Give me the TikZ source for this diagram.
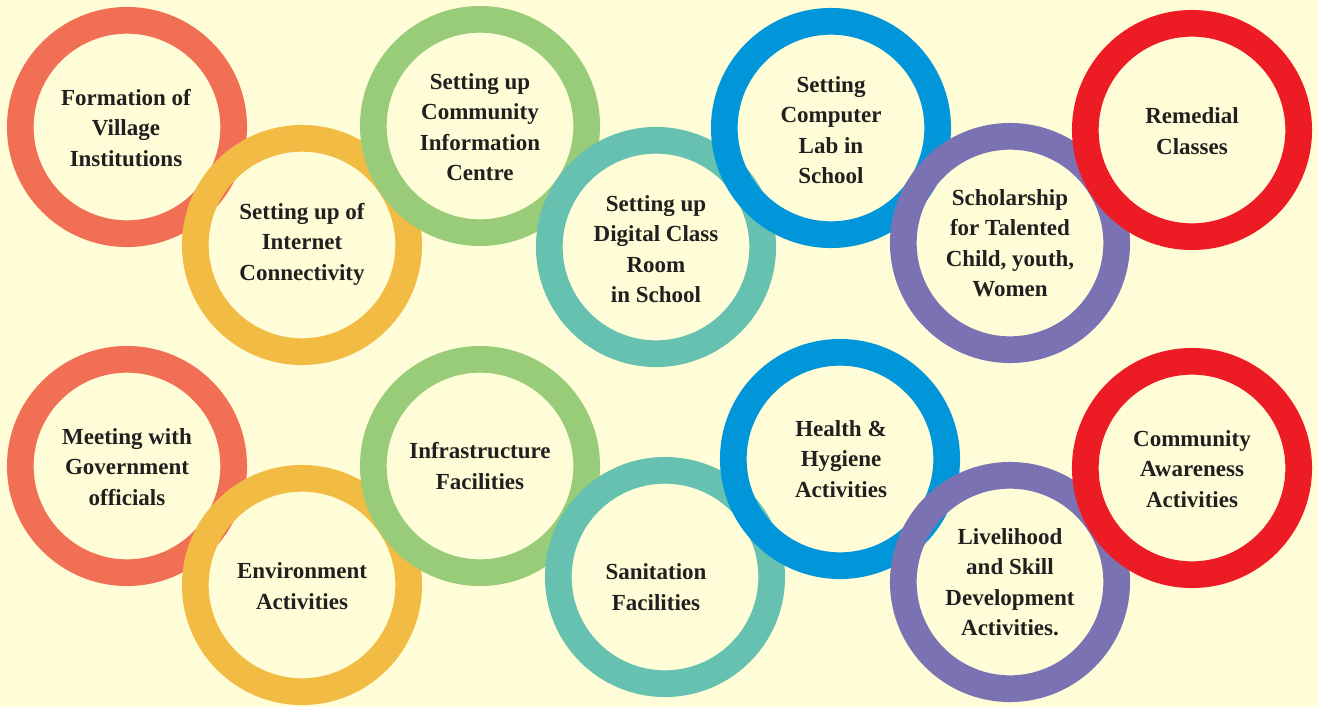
\documentclass[tikz,border=0pt]{standalone}
\usepackage{fontspec}
\setmainfont{Liberation Serif}
\definecolor{bgc}{HTML}{FFFDD7}
\definecolor{coralc}{HTML}{F06F55}
\definecolor{yellowc}{HTML}{F2BB43}
\definecolor{greenc}{HTML}{99CC79}
\definecolor{tealc}{HTML}{66C1B1}
\definecolor{bluec}{HTML}{0096D9}
\definecolor{purplec}{HTML}{7B72B4}
\definecolor{redc}{HTML}{ED1C24}
\definecolor{txtc}{HTML}{231F20}
\tikzset{
  ring/.style={circle, draw=#1, line width=26.7pt, minimum size=213.4pt, inner sep=0pt, outer sep=0pt},
  lbl/.style={align=center, text=txtc, font=\bfseries\fontsize{23}{30.5}\selectfont, inner sep=0pt}
}
\begin{document}
\begin{tikzpicture}[x=1pt,y=-1pt]
\useasboundingbox (0,0) rectangle (1318,707);
\fill[bgc] (0,0) rectangle (1318,707);
% row 1 rings
\node[ring=coralc]  (r1) at (127,127) {};
\node[ring=yellowc] (r2) at (302,245) {};
\node[ring=greenc]  (r3) at (480,126) {};
\node[ring=tealc]   (r4) at (656,247) {};
\node[ring=bluec]   (r5) at (831,128) {};
\node[ring=purplec] (r6) at (1010,243) {};
\node[ring=redc]    (r7) at (1192,130) {};
% row 2 rings
\node[ring=coralc]  (r8)  at (127,466) {};
\node[ring=yellowc] (r9)  at (302,585) {};
\node[ring=greenc]  (r10) at (480,466) {};
\node[ring=tealc]   (r11) at (665,577) {};
\node[ring=bluec]   (r12) at (840,459) {};
\node[ring=purplec] (r13) at (1010,582) {};
\node[ring=redc]    (r14) at (1192,468) {};
% labels
\node[lbl] (t1) at (126,128) {Formation of\\Village\\Institutions};
\node[lbl] (t2) at (302,244) {Setting up of\\Internet\\Connectivity};
\node[lbl] (t3) at (480,127) {Setting up\\Community\\Information\\Centre};
\node[lbl] (t4) at (656,249) {Setting up\\Digital Class\\Room\\in School};
\node[lbl] (t5) at (831,130) {Setting\\Computer\\Lab in\\School};
\node[lbl] (t6) at (1010,243) {Scholarship\\for Talented\\Child, youth,\\Women};
\node[lbl] (t7) at (1192,131) {Remedial\\Classes};
\node[lbl] (t8) at (127,467) {Meeting with\\Government\\officials};
\node[lbl] (t9) at (302,586) {Environment\\Activities};
\node[lbl] (t10) at (480,466) {Infrastructure\\Facilities};
\node[lbl] (t11) at (656,587) {Sanitation\\Facilities};
\node[lbl] (t12) at (841,459) {Health \&\\Hygiene\\Activities};
\node[lbl] (t13) at (1010,582) {Livelihood\\and Skill\\Development\\Activities.};
\node[lbl] (t14) at (1192,469) {Community\\Awareness\\Activities};
\end{tikzpicture}
\end{document}
